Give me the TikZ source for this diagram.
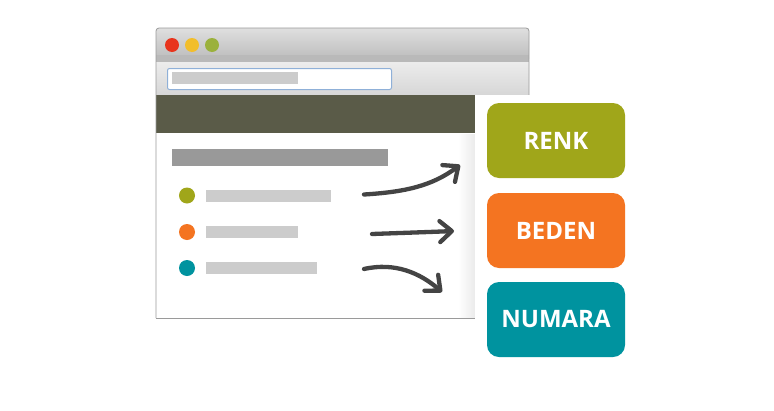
\documentclass[tikz,border=0pt]{standalone}
\usepackage{fontspec}
\newfontfamily\btnfont{Open Sans}
\usetikzlibrary{arrows.meta}
\definecolor{cRenk}{HTML}{A0A61A}
\definecolor{cBeden}{HTML}{F47421}
\definecolor{cNumara}{HTML}{00939F}
\definecolor{cHeader}{HTML}{5A5B48}
\definecolor{cRed}{HTML}{E8341C}
\definecolor{cYellow}{HTML}{F2BE2B}
\definecolor{cGreen}{HTML}{9BB13C}
\definecolor{cBar}{HTML}{CCCCCC}
\definecolor{cTitleBar}{HTML}{999999}
\definecolor{cArrow}{HTML}{444444}
\definecolor{cFrame}{HTML}{9A9A9A}
\definecolor{cField}{HTML}{8FB0D8}
\tikzset{
  btn/.style={draw=none, rounded corners=12pt, minimum width=138pt, minimum height=75pt,
    inner sep=0pt, text=white, font=\btnfont\bfseries\fontsize{24}{28}\selectfont},
  dotnode/.style={circle, draw=none, minimum size=16pt, inner sep=0pt},
  barnode/.style={draw=none, fill=cBar, inner sep=0pt, minimum height=12pt, anchor=west},
  light/.style={circle, draw=none, minimum size=14pt, inner sep=0pt},
  handarrow/.style={draw=cArrow, line width=4.3pt, line cap=round,
    -{Straight Barb[length=12pt,width=21pt,round]}},
}
\begin{document}
\begin{tikzpicture}[x=1pt,y=-1pt]
\useasboundingbox[fill=white] (0,0) rectangle (774,410);
% window body
\fill[white] (156,95) rectangle (529,318);
% title bar
\shade[top color=gray!25, bottom color=gray!55, rounded corners=3pt]
  (156,62) -- (156,28) -- (529,28) -- (529,62) -- cycle;
\fill[gray!55] (156,55) rectangle (529,62);
\draw[gray!65, line width=0.8pt] (156,62) -- (529,62);
% address bar area
\shade[top color=gray!15, bottom color=gray!32] (156,62.5) rectangle (529,95);
% header
\fill[cHeader] (156,95) rectangle (529,133);
% frame
\draw[cFrame, line width=0.8pt, rounded corners=3pt] (156,318) -- (156,28) -- (529,28) -- (529,95);
\draw[cFrame, line width=0.8pt] (156,318) -- (475,318);
% traffic lights
\node[light, fill=cRed] (red) at (172,45) {};
\node[light, fill=cYellow] (yellow) at (192,45) {};
\node[light, fill=cGreen] (green) at (212,45) {};
% address field
\node[draw=cField, fill=white, line width=1pt, rounded corners=2pt, minimum width=224pt,
  minimum height=21pt, inner sep=0pt, anchor=north west] (field) at (167,68) {};
\node[draw=none, fill=cBar, minimum width=126pt, minimum height=12pt, inner sep=0pt,
  anchor=north west] (fieldbar) at (172,72) {};
% content
\node[draw=none, fill=cTitleBar, minimum width=216pt, minimum height=17pt, inner sep=0pt,
  anchor=north west] (headbar) at (172,149) {};
\node[dotnode, fill=cRenk] (d1) at (187,195.5) {};
\node[dotnode, fill=cBeden] (d2) at (187,232) {};
\node[dotnode, fill=cNumara] (d3) at (187,268) {};
\node[barnode, minimum width=125pt] (b1) at (206,196) {};
\node[barnode, minimum width=92pt] (b2) at (206,231.5) {};
\node[barnode, minimum width=111pt] (b3) at (206,268) {};
% panel shadow and panel
\shade[left color=white, right color=gray!16] (458,134) rectangle (475,317.5);
\fill[white] (475,95) rectangle (640,372);
% buttons
\node[btn, fill=cRenk] (renk) at (556,140.5) {RENK};
\node[btn, fill=cBeden] (beden) at (556,230.5) {BEDEN};
\node[btn, fill=cNumara] (numara) at (556,319.5) {NUMARA};
% arrows
\coordinate (a1s) at (364,194.5);
\coordinate (a1e) at (460,165);
\coordinate (a2s) at (372,234);
\coordinate (a2e) at (454,231);
\coordinate (a3s) at (364,269);
\coordinate (a3e) at (442,292);
\draw[handarrow] (a1s) .. controls (405,192) and (432,186) .. (a1e);
\draw[handarrow] (a2s) .. controls (400,233) and (430,232) .. (a2e);
\draw[handarrow] (a3s) .. controls (395,262) and (420,273) .. (a3e);
\end{tikzpicture}
\end{document}
